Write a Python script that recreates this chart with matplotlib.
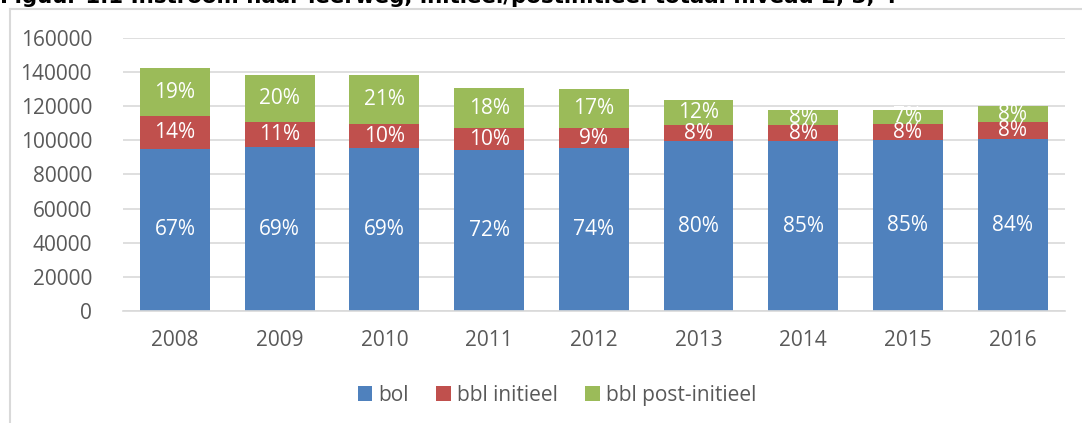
import numpy as np
import matplotlib
matplotlib.use("Agg")
import matplotlib.pyplot as plt
from matplotlib.lines import Line2D

# waarden
jaren = ['2008', '2009', '2010', '2011', '2012', '2013', '2014', '2015', '2016']
bol = [95000, 96100, 95500, 94400, 95500, 99600, 99600, 100200, 100800]
bbl_init = [19400, 14600, 14100, 12800, 11700, 9400, 9400, 9400, 9900]
bbl_post = [27800, 27600, 28700, 23500, 22900, 14600, 8800, 8200, 9400]

lbl_bol = ['67%', '69%', '69%', '72%', '74%', '80%', '85%', '85%', '84%']
lbl_init = ['14%', '11%', '10%', '10%', '9%', '8%', '8%', '8%', '8%']
lbl_post = ['19%', '20%', '21%', '18%', '17%', '12%', '8%', '7%', '8%']

yticks = [0, 20000, 40000, 60000, 80000, 100000, 120000, 140000, 160000]

plt.rcParams['font.family'] = ['Open Sans', 'DejaVu Sans']
fs = 15

fig = plt.figure(figsize=(10.82, 4.23), dpi=100)
ax = fig.add_axes([122.6/1082, 1-311/423, (1065-122.6)/1082, (311-38)/423])

x = np.arange(len(jaren))
w = 0.667
b1 = ax.bar(x, bol, w, color='#4F81BD', label='bol')
b2 = ax.bar(x, bbl_init, w, bottom=bol, color='#C0504D', label='bbl initieel')
onder = np.array(bol) + np.array(bbl_init)
b3 = ax.bar(x, bbl_post, w, bottom=onder, color='#9BBB59', label='bbl post-initieel')

for bars, lbls in [(b1, lbl_bol), (b2, lbl_init), (b3, lbl_post)]:
    ax.bar_label(bars, labels=lbls, label_type='center', color='white', fontsize=fs)

ax.set_xlim(-0.5, len(jaren) - 0.5)
ax.set_ylim(0, 160000)
ax.set_yticks(yticks)
ax.set_yticklabels([str(v) for v in yticks])
ax.set_xticks(x)
ax.set_xticklabels(jaren)
ax.tick_params(axis='both', length=0, labelsize=fs, labelcolor='#595959')
ax.tick_params(axis='y', pad=22)
ax.tick_params(axis='x', pad=14)
ax.yaxis.grid(True, color='#d9d9d9', linewidth=1.2)
ax.set_axisbelow(True)
for s in ['top', 'right', 'left']:
    ax.spines[s].set_visible(False)
ax.spines['bottom'].set_color('#d9d9d9')
ax.spines['bottom'].set_linewidth(1.2)

fig.legend(handles=[b1, b2, b3], loc='center', bbox_to_anchor=(557/1082, 1-395/423),
           ncol=3, frameon=False, fontsize=fs, labelcolor='#595959',
           handlelength=0.7, handleheight=0.7, handletextpad=0.3, columnspacing=1.3)

# rand van het grafiekgebied
fig.add_artist(Line2D([10/1082, 10/1082], [0, 1-9/423], color='#d9d9d9', linewidth=1.5))
fig.add_artist(Line2D([10/1082, 1], [1-9/423, 1-9/423], color='#d9d9d9', linewidth=1.5))

# titel (bovenkant valt buiten beeld)
fig.text(0, 1-3/423, 'Figuur 1.1 Instroom naar leerweg, initieel/postinitieel totaal niveau 2, 3, 4',
         fontsize=15.4, fontweight='bold', family='DejaVu Sans', va='baseline', ha='left')

fig.savefig('out.png', dpi=100)
